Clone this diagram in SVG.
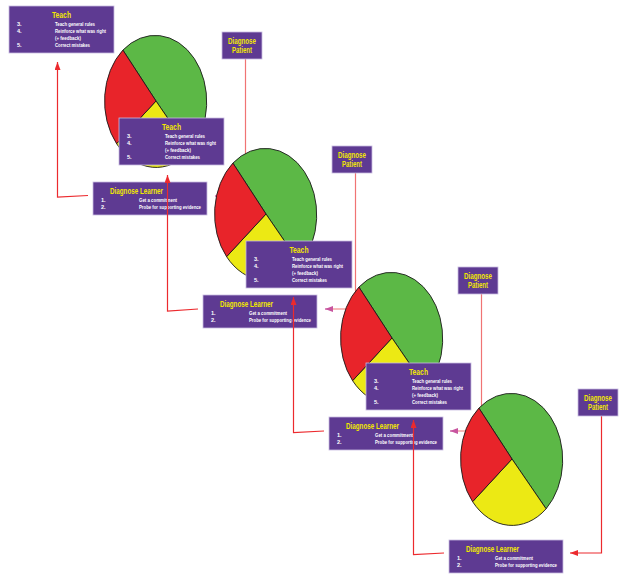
<svg xmlns="http://www.w3.org/2000/svg" xmlns:xlink="http://www.w3.org/1999/xlink" width="619" height="575" viewBox="0 0 619 575">
  <style>
    .box { fill: #5e3a92; stroke: #c8bce0; stroke-width: 0.8; }
    .title { fill: #f2e800; font-family: "Liberation Sans", Arial, sans-serif; font-weight: bold; font-size: 8.5px; }
    .item { fill: #ffffff; font-family: "Liberation Sans", Arial, sans-serif; font-weight: bold; font-size: 5.6px; }
    .wire { fill: none; stroke: #ec2a2e; stroke-width: 1.2; }
    .wire-light { fill: none; stroke: #f07474; stroke-width: 1.2; }
    .wire-pink { fill: none; stroke: #c8559f; stroke-width: 1.2; }
    .slice { stroke: #1a1a1a; stroke-width: 0.9; stroke-linejoin: round; }
  </style>
  <defs>
    <marker id="arrow-red" viewBox="0 0 8 6" refX="8" refY="3" markerWidth="8" markerHeight="6" markerUnits="userSpaceOnUse" orient="auto">
      <path d="M0,0 L8,3 L0,6 z" fill="#ec2a2e"/>
    </marker>
    <marker id="arrow-pink" viewBox="0 0 8 6" refX="8" refY="3" markerWidth="8" markerHeight="6" markerUnits="userSpaceOnUse" orient="auto">
      <path d="M0,0 L8,3 L0,6 z" fill="#c8559f"/>
    </marker>
    <!-- three-slice pie, centred on the origin -->
    <g id="pie">
      <path class="slice" fill="#5cb846" d="M0,0 L-33.1,-50.9 A51.5,66.5 0 0 1 34.1,49.8 Z"/>
      <path class="slice" fill="#ece914" d="M0,0 L34.1,49.8 A51.5,66.5 0 0 1 -39.4,42.7 Z"/>
      <path class="slice" fill="#e8242a" d="M0,0 L-39.4,42.7 A51.5,66.5 0 0 1 -33.1,-50.9 Z"/>
    </g>
  </defs>

  <rect width="619" height="575" fill="#ffffff"/>

  <!-- patient-to-learner feeds, drawn beneath the pies -->
  <g id="connectors-back">
    <path class="wire-light" d="M245.5,59 V196 H222"/>
    <path class="wire-pink" d="M222,196 H215" marker-end="url(#arrow-pink)"/>
    <path class="wire-light" d="M355.5,173 V309 H333"/>
    <path class="wire-pink" d="M333,309 H325" marker-end="url(#arrow-pink)"/>
    <path class="wire-light" d="M481.5,294 V431 H458"/>
    <path class="wire-pink" d="M458,431 H450" marker-end="url(#arrow-pink)"/>
    <path class="wire" d="M601.5,416 V553 H570" marker-end="url(#arrow-red)"/>
  </g>

  <!-- unit 1 -->
  <g id="pie-1" transform="translate(156,101)"><use xlink:href="#pie" href="#pie"/></g>
  <g id="teach-1" transform="translate(9,6)">
    <rect class="box" width="105" height="47"/>
    <text class="title" x="52.5" y="12" text-anchor="middle" textLength="19" lengthAdjust="spacingAndGlyphs">Teach</text>
    <text class="item" x="8" y="19.5">3.</text>
    <text class="item" x="8" y="26.5">4.</text>
    <text class="item" x="8" y="40.5">5.</text>
    <text class="item" x="46" y="19.5" textLength="40" lengthAdjust="spacingAndGlyphs">Teach general rules</text>
    <text class="item" x="46" y="26.5" textLength="51" lengthAdjust="spacingAndGlyphs">Reinforce what was right</text>
    <text class="item" x="46" y="33.5" textLength="26" lengthAdjust="spacingAndGlyphs">(+ feedback)</text>
    <text class="item" x="46" y="40.5" textLength="35" lengthAdjust="spacingAndGlyphs">Correct mistakes</text>
  </g>
  <g id="learner-1" transform="translate(93,182)">
    <rect class="box" width="114" height="33"/>
    <text class="title" x="17" y="11.5" textLength="53" lengthAdjust="spacingAndGlyphs">Diagnose Learner</text>
    <text class="item" x="8" y="19.5">1.</text>
    <text class="item" x="8" y="26.5">2.</text>
    <text class="item" x="46" y="19.5" textLength="38" lengthAdjust="spacingAndGlyphs">Get a commitment</text>
    <text class="item" x="46" y="26.5" textLength="62" lengthAdjust="spacingAndGlyphs">Probe for supporting evidence</text>
  </g>
  <g id="patient-1" transform="translate(222,32)">
    <rect class="box" width="40" height="27"/>
    <text class="title" x="20" y="11.5" text-anchor="middle" textLength="28" lengthAdjust="spacingAndGlyphs">Diagnose</text>
    <text class="title" x="20" y="20.5" text-anchor="middle" textLength="20" lengthAdjust="spacingAndGlyphs">Patient</text>
  </g>

  <!-- unit 2 -->
  <g id="pie-2" transform="translate(266,214)"><use xlink:href="#pie" href="#pie"/></g>
  <g id="teach-2" transform="translate(119,118)">
    <rect class="box" width="105" height="47"/>
    <text class="title" x="52.5" y="12" text-anchor="middle" textLength="19" lengthAdjust="spacingAndGlyphs">Teach</text>
    <text class="item" x="8" y="19.5">3.</text>
    <text class="item" x="8" y="26.5">4.</text>
    <text class="item" x="8" y="40.5">5.</text>
    <text class="item" x="46" y="19.5" textLength="40" lengthAdjust="spacingAndGlyphs">Teach general rules</text>
    <text class="item" x="46" y="26.5" textLength="51" lengthAdjust="spacingAndGlyphs">Reinforce what was right</text>
    <text class="item" x="46" y="33.5" textLength="26" lengthAdjust="spacingAndGlyphs">(+ feedback)</text>
    <text class="item" x="46" y="40.5" textLength="35" lengthAdjust="spacingAndGlyphs">Correct mistakes</text>
  </g>
  <g id="learner-2" transform="translate(203,295)">
    <rect class="box" width="114" height="33"/>
    <text class="title" x="17" y="11.5" textLength="53" lengthAdjust="spacingAndGlyphs">Diagnose Learner</text>
    <text class="item" x="8" y="19.5">1.</text>
    <text class="item" x="8" y="26.5">2.</text>
    <text class="item" x="46" y="19.5" textLength="38" lengthAdjust="spacingAndGlyphs">Get a commitment</text>
    <text class="item" x="46" y="26.5" textLength="62" lengthAdjust="spacingAndGlyphs">Probe for supporting evidence</text>
  </g>
  <g id="patient-2" transform="translate(332,146)">
    <rect class="box" width="40" height="27"/>
    <text class="title" x="20" y="11.5" text-anchor="middle" textLength="28" lengthAdjust="spacingAndGlyphs">Diagnose</text>
    <text class="title" x="20" y="20.5" text-anchor="middle" textLength="20" lengthAdjust="spacingAndGlyphs">Patient</text>
  </g>

  <!-- unit 3 -->
  <g id="pie-3" transform="translate(392,338)"><use xlink:href="#pie" href="#pie"/></g>
  <g id="teach-3" transform="translate(246,241)">
    <rect class="box" width="106" height="47"/>
    <text class="title" x="53" y="12" text-anchor="middle" textLength="19" lengthAdjust="spacingAndGlyphs">Teach</text>
    <text class="item" x="8" y="19.5">3.</text>
    <text class="item" x="8" y="26.5">4.</text>
    <text class="item" x="8" y="40.5">5.</text>
    <text class="item" x="46" y="19.5" textLength="40" lengthAdjust="spacingAndGlyphs">Teach general rules</text>
    <text class="item" x="46" y="26.5" textLength="51" lengthAdjust="spacingAndGlyphs">Reinforce what was right</text>
    <text class="item" x="46" y="33.5" textLength="26" lengthAdjust="spacingAndGlyphs">(+ feedback)</text>
    <text class="item" x="46" y="40.5" textLength="35" lengthAdjust="spacingAndGlyphs">Correct mistakes</text>
  </g>
  <g id="learner-3" transform="translate(329,417)">
    <rect class="box" width="114" height="33"/>
    <text class="title" x="17" y="11.5" textLength="53" lengthAdjust="spacingAndGlyphs">Diagnose Learner</text>
    <text class="item" x="8" y="19.5">1.</text>
    <text class="item" x="8" y="26.5">2.</text>
    <text class="item" x="46" y="19.5" textLength="38" lengthAdjust="spacingAndGlyphs">Get a commitment</text>
    <text class="item" x="46" y="26.5" textLength="62" lengthAdjust="spacingAndGlyphs">Probe for supporting evidence</text>
  </g>
  <g id="patient-3" transform="translate(458,267)">
    <rect class="box" width="40" height="27"/>
    <text class="title" x="20" y="11.5" text-anchor="middle" textLength="28" lengthAdjust="spacingAndGlyphs">Diagnose</text>
    <text class="title" x="20" y="20.5" text-anchor="middle" textLength="20" lengthAdjust="spacingAndGlyphs">Patient</text>
  </g>

  <!-- unit 4 -->
  <g id="pie-4" transform="translate(512,459)"><use xlink:href="#pie" href="#pie"/></g>
  <g id="teach-4" transform="translate(366,363)">
    <rect class="box" width="105" height="47"/>
    <text class="title" x="52.5" y="12" text-anchor="middle" textLength="19" lengthAdjust="spacingAndGlyphs">Teach</text>
    <text class="item" x="8" y="19.5">3.</text>
    <text class="item" x="8" y="26.5">4.</text>
    <text class="item" x="8" y="40.5">5.</text>
    <text class="item" x="46" y="19.5" textLength="40" lengthAdjust="spacingAndGlyphs">Teach general rules</text>
    <text class="item" x="46" y="26.5" textLength="51" lengthAdjust="spacingAndGlyphs">Reinforce what was right</text>
    <text class="item" x="46" y="33.5" textLength="26" lengthAdjust="spacingAndGlyphs">(+ feedback)</text>
    <text class="item" x="46" y="40.5" textLength="35" lengthAdjust="spacingAndGlyphs">Correct mistakes</text>
  </g>
  <g id="learner-4" transform="translate(449,540)">
    <rect class="box" width="114" height="33"/>
    <text class="title" x="17" y="11.5" textLength="53" lengthAdjust="spacingAndGlyphs">Diagnose Learner</text>
    <text class="item" x="8" y="19.5">1.</text>
    <text class="item" x="8" y="26.5">2.</text>
    <text class="item" x="46" y="19.5" textLength="38" lengthAdjust="spacingAndGlyphs">Get a commitment</text>
    <text class="item" x="46" y="26.5" textLength="62" lengthAdjust="spacingAndGlyphs">Probe for supporting evidence</text>
  </g>
  <g id="patient-4" transform="translate(578,389)">
    <rect class="box" width="40" height="27"/>
    <text class="title" x="20" y="11.5" text-anchor="middle" textLength="28" lengthAdjust="spacingAndGlyphs">Diagnose</text>
    <text class="title" x="20" y="20.5" text-anchor="middle" textLength="20" lengthAdjust="spacingAndGlyphs">Patient</text>
  </g>

  <!-- learner-to-teach returns, drawn over the boxes -->
  <g id="connectors-front">
    <path class="wire" d="M88,195.5 L57.5,197 V62" marker-end="url(#arrow-red)"/>
    <path class="wire" d="M198,309 L167.5,311 V175" marker-end="url(#arrow-red)"/>
    <path class="wire" d="M324,431 L293.5,432.5 V297" marker-end="url(#arrow-red)"/>
    <path class="wire" d="M444,553 L413.5,554.5 V420" marker-end="url(#arrow-red)"/>
  </g>
</svg>
